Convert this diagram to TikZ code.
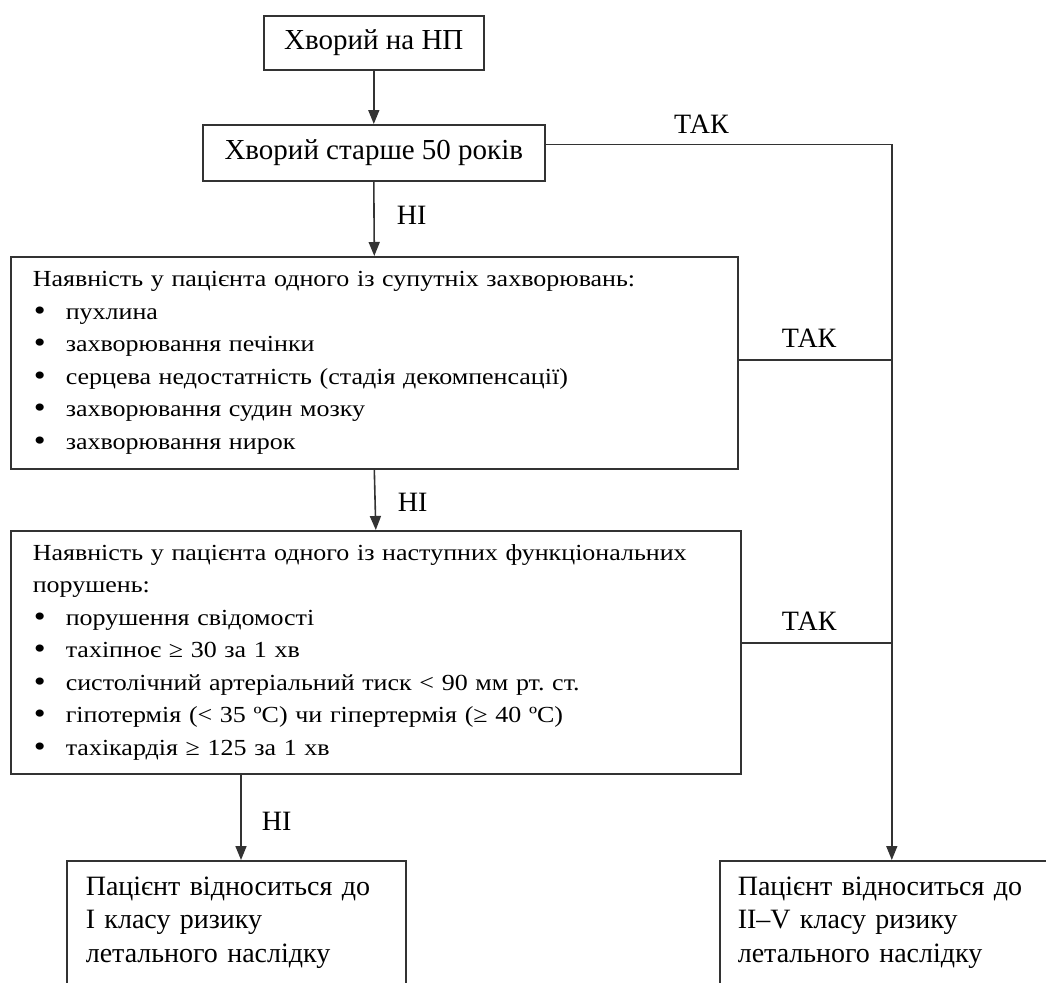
\documentclass[tikz,border=0pt]{standalone}
\usepackage{fontspec}
\setmainfont{Liberation Serif}
\newfontfamily\widefont[FakeStretch=1.13]{Liberation Serif}
\usetikzlibrary{arrows.meta,calc}
\newcommand{\bul}[1]{\hspace*{1pt}\makebox[32pt][l]{\raisebox{-1pt}{\fontsize{30}{30}\selectfont\textbullet}}#1}
\frenchspacing
\begin{document}
\begin{tikzpicture}[x=1pt,y=1pt,
  box/.style={draw=black!80,line width=1.6pt,anchor=north west,inner sep=0pt},
  lbl/.style={font=\fontsize{28}{32}\selectfont,inner sep=0pt},
  listbox/.style={box,inner xsep=22pt,align=left,font=\widefont\fontsize{23}{32.5}\selectfont\frenchspacing},
  endbox/.style={box,inner ysep=16pt,align=left,font=\fontsize{28}{33.5}\selectfont},
  conn/.style={draw=black!80,line width=1.6pt},
  arr/.style={conn,-{Triangle[length=14pt,width=11pt]}}]
\useasboundingbox (0,0) rectangle (1046,-982);
\clip (0,0) rectangle (1046,-982);
\node[box,minimum width=220pt,minimum height=54pt,font=\fontsize{29}{32}\selectfont] (b1) at (263,-15) {Хворий на НП};
\node[box,minimum width=342pt,minimum height=56pt,font=\fontsize{29}{32}\selectfont] (b2) at (202,-124) {Хворий старше 50 років};
\node[listbox,minimum width=727pt,minimum height=212pt,text width=683pt] (b3) at (10,-256) {Наявність у пацієнта одного із супутніх захворювань:\\
\bul{пухлина}\\
\bul{захворювання печінки}\\
\bul{серцева недостатність (стадія декомпенсації)}\\
\bul{захворювання судин мозку}\\
\bul{захворювання нирок}};
\node[listbox,minimum width=730pt,minimum height=243pt,text width=686pt] (b4) at (10,-530) {\makebox[686pt][s]{Наявність у пацієнта одного із наступних функціональних}\\
порушень:\\
\bul{порушення свідомості}\\
\bul{тахіпноє ≥ 30 за 1 хв}\\
\bul{систолічний артеріальний тиск < 90 мм рт. ст.}\\
\bul{гіпотермія (< 35 ºC) чи гіпертермія (≥ 40 ºC)}\\
\bul{тахікардія ≥ 125 за 1 хв}};
\node[endbox,inner xsep=19pt,text width=301pt] (b5) at (66,-860) {Пацієнт відноситься до\\ I класу ризику\\ летального наслідку\\[30pt]\mbox{}};
\node[endbox,inner xsep=18pt,text width=308pt] (b6) at (719,-860) {Пацієнт відноситься до\\ II–V класу ризику\\ летального наслідку\\[30pt]\mbox{}};
\coordinate (b5in) at (241,-860);
\draw[arr] (b1.south) -- (b2.north);
\draw[arr] (b2.south) -- node[lbl,right=22pt,pos=0.45] (n1) {НІ} (b3.north);
\draw[arr] (b3.south) -- node[lbl,right=22pt,pos=0.55] (n2) {НІ} (b4.north);
\draw[arr] (b4.south -| b5in) -- node[lbl,right=20pt,pos=0.55] (n3) {НІ} (b5in);
\draw[arr] ([yshift=8.5pt]b2.east) -| node[lbl,above=10pt,pos=0.225] (t1) {ТАК} (b6.north);
\draw[conn] ([yshift=3pt]b3.east) -- node[lbl,above=12pt,pos=0.46] (t2) {ТАК} ([yshift=3pt]b3.east -| b6.north);
\draw[conn] ([yshift=9.5pt]b4.east) -- node[lbl,above=12pt,pos=0.45] (t3) {ТАК} ([yshift=9.5pt]b4.east -| b6.north);
\end{tikzpicture}
\end{document}
